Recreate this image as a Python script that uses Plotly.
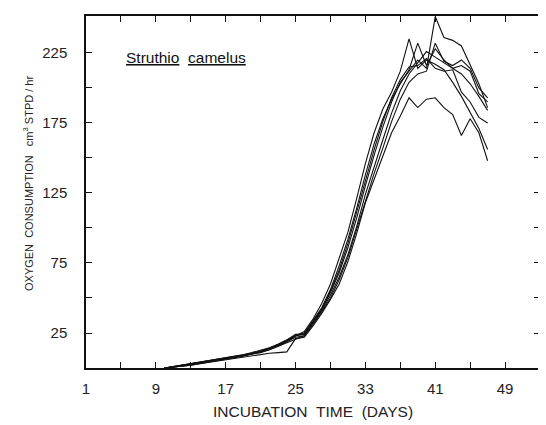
import plotly.graph_objects as go

# Days of incubation and O2 consumption (cm3 STPD / hr) for seven embryos
days_a = list(range(10, 48))
curve1 = [0, 1, 1.5, 2.5, 3.5, 4.5, 5.5, 6.5, 7.5, 9, 10.5, 12, 14, 17, 20, 24,
          24, 33, 42, 54, 68, 86, 107, 130, 152, 172, 190, 204, 212, 220, 214, 251, 236, 234, 230, 216, 203, 186]
curve2 = [0, 0.5, 1, 2, 3, 4, 5, 6, 7, 8, 9, 10, 10.5, 11, 11.5, 21,
          22, 30, 39, 49, 60, 76, 96, 118, 135, 152, 168, 180, 193, 186, 192, 193, 186, 181, 166, 178, 168, 148]
curve3 = [0, 1, 2, 3, 4, 5, 6, 7, 8, 9.5, 11, 12.5, 14.5, 17, 20, 23,
          26, 35, 46, 60, 78, 97, 121, 146, 168, 185, 197, 212, 235, 214, 220, 217, 213, 204, 194, 182, 171, 156]
curve4 = [0, 0.5, 1.5, 2.5, 3.5, 4.5, 5.5, 6.5, 8, 9, 10, 11.5, 13.5, 16, 19, 23,
          25, 34, 43, 56, 73, 92, 114, 138, 160, 178, 192, 203, 213, 232, 216, 228, 220, 214, 216, 212, 196, 190]
curve5 = [0, 0.5, 1, 2, 3, 4, 5, 6, 7, 8.5, 10, 11.5, 13, 15.5, 18.5, 22,
          23, 32, 41, 52, 65, 81, 101, 124, 144, 163, 182, 198, 210, 218, 226, 222, 218, 214, 210, 203, 194, 184]
curve6 = [0, 1, 2, 3, 4, 5, 6, 7, 8, 9, 10.5, 12, 14, 16.5, 19.5, 23,
          24, 33, 42, 55, 70, 89, 111, 134, 156, 176, 193, 206, 215, 216, 221, 214, 212, 213, 197, 190, 179, 175]
curve7 = [0, 0.5, 1.5, 2.5, 3.5, 4.5, 5.5, 6.5, 7.5, 8.5, 10, 11, 13, 15.5, 18, 21,
          23, 31, 40, 50, 63, 79, 99, 120, 139, 157, 176, 192, 204, 210, 212, 232, 219, 216, 220, 214, 200, 193]

curves = [curve1, curve2, curve3, curve4, curve5, curve6, curve7]

x_tick_vals = [1, 9, 17, 25, 33, 41, 49]
y_tick_vals = [25, 75, 125, 175, 225]

fig = go.Figure()
for c in curves:
    fig.add_trace(go.Scatter(x=days_a, y=c, mode="lines",
                             line=dict(color="#111111", width=1.1),
                             showlegend=False, hoverinfo="skip"))

font_family = "Liberation Sans, Arial, sans-serif"

# page body has an 8px margin, so the figure is sized to fit inside the window
fig.update_layout(
    width=538, height=417,
    margin=dict(l=78, r=4, t=8, b=57),
    paper_bgcolor="white", plot_bgcolor="white",
    font=dict(family=font_family, color="#222222", size=14),
    xaxis=dict(
        range=[1, 53], tickmode="array", tickvals=x_tick_vals,
        ticktext=[str(v) for v in x_tick_vals],
        ticks="inside", ticklen=6, tickwidth=1, tickcolor="#111111",
        showline=True, linecolor="#111111", linewidth=1.5, mirror="ticks",
        showgrid=False, zeroline=False,
        minor=dict(tickmode="array", tickvals=[5, 13, 21, 29, 37, 45, 53],
                   ticks="inside", ticklen=6, tickcolor="#111111", showgrid=False),
        tickfont=dict(size=15), ticklabelstandoff=6,
    ),
    yaxis=dict(
        range=[0, 251.4], tickmode="array", tickvals=y_tick_vals,
        ticktext=[str(v) for v in y_tick_vals],
        ticks="inside", ticklen=6, tickwidth=1, tickcolor="#111111",
        showline=True, linecolor="#111111", linewidth=1.5, mirror="ticks",
        showgrid=False, zeroline=False,
        minor=dict(tickmode="array", tickvals=[50, 100, 150, 200],
                   ticks="inside", ticklen=6, tickcolor="#111111", showgrid=False),
        tickfont=dict(size=15), ticklabelstandoff=14,
    ),
    annotations=[
        dict(text="<u>Struthio</u>\u00a0\u00a0<u>camelus</u>", x=5.3, y=222,
             xref="x", yref="y", xanchor="left", yanchor="middle",
             showarrow=False, font=dict(size=15.5, color="#111111")),
        dict(text="INCUBATION\u00a0\u00a0TIME\u00a0\u00a0(DAYS)", x=0.5, y=0,
             xref="paper", yref="paper", xanchor="center", yanchor="middle",
             yshift=-43, showarrow=False, font=dict(size=15.5, color="#222222")),
        dict(text="OXYGEN\u00a0\u00a0CONSUMPTION\u00a0\u00a0\u00a0cm<sup>3</sup>\u00a0STPD\u00a0/\u00a0hr",
             x=0, y=0.5, xref="paper", yref="paper", xanchor="center",
             yanchor="middle", xshift=-58, yshift=8, textangle=-90, showarrow=False,
             font=dict(size=11, color="#222222")),
    ],
)

fig.write_html("out.html")
